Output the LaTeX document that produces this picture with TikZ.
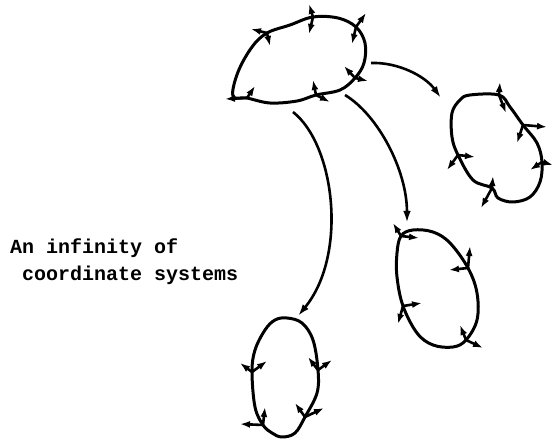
\documentclass[tikz,border=0pt]{standalone}
\usepackage{fontspec}
\setmonofont{Liberation Mono}
\usetikzlibrary{arrows.meta}
\tikzset{
  loop/.style={line width=3pt, line join=round},
  axis/.style={line width=2.6pt, -{Latex[length=10pt,width=7pt]}},
  conn/.style={line width=2.6pt, -{Latex[length=12pt,width=7.5pt]}},
  label/.style={font=\ttfamily\bfseries\fontsize{20}{27}\selectfont, align=left, inner sep=0pt, anchor=base west}
}
\begin{document}
\begin{tikzpicture}[x=1pt,y=-1pt]
\useasboundingbox (0,0) rectangle (555,441);
% frame origins
\coordinate (t1) at (267,33);  \coordinate (t2) at (313,17);  \coordinate (t3) at (356,27);
\coordinate (t4) at (355,78);  \coordinate (t5) at (316,95);  \coordinate (t6) at (247,98);
\coordinate (r1) at (499,95);  \coordinate (r2) at (523,125); \coordinate (r3) at (542,162);
\coordinate (r4) at (492,188); \coordinate (r5) at (458,155);
\coordinate (m1) at (401,236); \coordinate (m2) at (468,268); \coordinate (m3) at (403,306);
\coordinate (m4) at (466,340);
\coordinate (b1) at (252,372); \coordinate (b2) at (318,370); \coordinate (b3) at (263,425);
\coordinate (b4) at (305,417);
% loops
\draw[loop] plot[smooth cycle, tension=0.6] coordinates {(233,96) (238,72) (252,47) (t1) (290,25) (t2) (338,18) (t3) (365,43) (364,63) (t4) (340,90) (t5) (297,101) (270,103) (t6)};
\draw[loop] plot[smooth cycle, tension=0.6] coordinates {(470,95) (r1) (510,107) (r2) (537,143) (r3) (540,182) (530,197) (513,202) (498,198) (r4) (473,180) (r5) (452,137) (452,113) (460,100)};
\draw[loop] plot[smooth cycle, tension=0.6] coordinates {(m1) (413,230) (433,232) (450,243) (m2) (477,293) (477,320) (m4) (453,347) (433,345) (417,333) (m3) (397,277) (397,253)};
\draw[loop] plot[smooth cycle, tension=0.6] coordinates {(287,318) (302,323) (313,340) (b2) (317,393) (b4) (295,433) (282,437) (272,433) (b3) (255,407) (b1) (255,350) (265,330) (275,320)};
% frames
\draw[axis] (t1) -- (251,29); \draw[axis] (t1) -- (270,46);
\draw[axis] (t2) -- (309,4);  \draw[axis] (t2) -- (309,34);
\draw[axis] (t3) -- (366,13); \draw[axis] (t3) -- (352,44);
\draw[axis] (t4) -- (344,66); \draw[axis] (t4) -- (368,81);
\draw[axis] (t5) -- (313,80); \draw[axis] (t5) -- (330,102);
\draw[axis] (t6) -- (255,86); \draw[axis] (t6) -- (225,99);
\draw[axis] (r1) -- (500,82); \draw[axis] (r1) -- (506,113);
\draw[axis] (r2) -- (547,127);\draw[axis] (r2) -- (517,143);
\draw[axis] (r3) -- (530,170);\draw[axis] (r3) -- (553,165);
\draw[axis] (r4) -- (493,176);\draw[axis] (r4) -- (481,208);
\draw[axis] (r5) -- (475,157);\draw[axis] (r5) -- (447,170);
\draw[axis] (m1) -- (393,223);\draw[axis] (m1) -- (419,238);
\draw[axis] (m2) -- (470,246);\draw[axis] (m2) -- (449,270);
\draw[axis] (m3) -- (422,303);\draw[axis] (m3) -- (398,324);
\draw[axis] (m4) -- (460,325);\draw[axis] (m4) -- (483,348);
\draw[axis] (b1) -- (240,363);\draw[axis] (b1) -- (267,361);
\draw[axis] (b2) -- (308,357);\draw[axis] (b2) -- (332,360);
\draw[axis] (b3) -- (265,407);\draw[axis] (b3) -- (240,424);
\draw[axis] (b4) -- (295,403);\draw[axis] (b4) -- (324,408);
% connectors
\coordinate (c1s) at (293,112); \coordinate (c1e) at (298,316);
\coordinate (c2s) at (345,95);  \coordinate (c2e) at (407,223);
\coordinate (c3s) at (371,63);  \coordinate (c3e) at (441,98);
\draw[conn] (c1s) .. controls (335,145) and (348,255) .. (c1e);
\draw[conn] (c2s) .. controls (378,115) and (407,170) .. (c2e);
\draw[conn] (c3s) .. controls (398,62) and (425,76) .. (c3e);
% label
\node[label] (txt) at (10,280) {An infinity of\\\hphantom{A}coordinate systems};
\end{tikzpicture}
\end{document}
